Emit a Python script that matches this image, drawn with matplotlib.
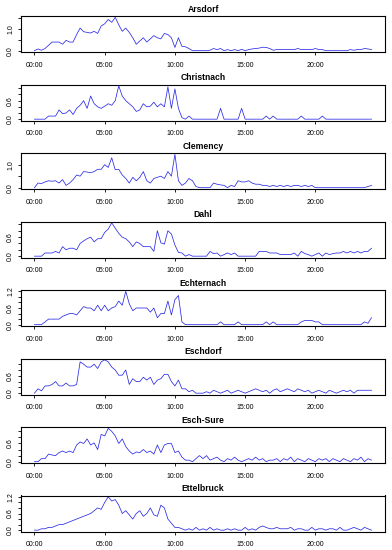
import numpy as np
import matplotlib
matplotlib.use("Agg")
import matplotlib.pyplot as plt

plt.rcParams['font.family'] = ['Liberation Sans', 'DejaVu Sans']

# 15-minute values, 00:00 .. 24:00
hours = np.arange(97) / 4.0

arsdorf = [
    0.0, 0.08, 0.02, 0.1, 0.25, 0.4, 0.4, 0.4,
    0.3, 0.48, 0.4, 0.4, 0.75, 1.05, 0.88, 0.85,
    0.82, 0.9, 0.8, 1.15, 1.25, 1.45, 1.32, 1.55,
    1.2, 0.9, 1.05, 0.85, 0.6, 0.3, 0.45, 0.6,
    0.4, 0.55, 0.7, 0.6, 0.55, 0.8, 0.75, 0.6,
    0.15, 0.6, 0.2, 0.18, 0.1, 0.0, 0.0, 0.0,
    0.0, 0.0, 0.02, 0.1, 0.05, 0.1, 0.0, 0.05,
    0.0, 0.05, 0.0, 0.06, 0.0, 0.05, 0.08, 0.1,
    0.12, 0.16, 0.15, 0.1, 0.02, 0.05, 0.05, 0.05,
    0.05, 0.05, 0.05, 0.1, 0.05, 0.05, 0.05, 0.05,
    0.1, 0.05, 0.05, 0.0, 0.0, 0.0, 0.0, 0.0,
    0.0, 0.0, 0.05, 0.02, 0.05, 0.05, 0.1, 0.08,
    0.05]

christnach = [
    0.0, 0.0, 0.0, 0.0, 0.1, 0.1, 0.1, 0.3,
    0.18, 0.2, 0.3, 0.15, 0.35, 0.45, 0.6, 0.35,
    0.75, 0.5, 0.4, 0.35, 0.42, 0.5, 0.45, 0.6,
    1.08, 0.75, 0.6, 0.5, 0.4, 0.25, 0.3, 0.5,
    0.4, 0.42, 0.55, 0.4, 0.5, 0.4, 1.05, 0.35,
    0.98, 0.35, 0.05, 0.0, 0.1, 0.0, 0.0, 0.0,
    0.0, 0.0, 0.0, 0.0, 0.0, 0.35, 0.0, 0.0,
    0.0, 0.0, 0.0, 0.35, 0.0, 0.0, 0.0, 0.0,
    0.0, 0.0, 0.1, 0.0, 0.1, 0.0, 0.0, 0.0,
    0.0, 0.0, 0.0, 0.0, 0.1, 0.0, 0.0, 0.0,
    0.0, 0.0, 0.1, 0.0, 0.0, 0.0, 0.0, 0.0,
    0.0, 0.0, 0.0, 0.0, 0.0, 0.0, 0.0, 0.0,
    0.0]

clemency = [
    0.0, 0.2, 0.18, 0.25, 0.3, 0.28, 0.3, 0.2,
    0.35, 0.1, 0.2, 0.35, 0.55, 0.5, 0.7, 0.68,
    0.65, 0.7, 0.8, 0.8, 1.0, 0.88, 1.3, 0.78,
    0.8, 0.55, 0.4, 0.2, 0.45, 0.3, 0.45, 0.7,
    0.3, 0.2, 0.4, 0.45, 0.5, 0.4, 0.7, 0.5,
    1.45, 0.3, 0.1, 0.2, 0.4, 0.3, 0.05, 0.0,
    0.0, 0.0, 0.0, 0.2, 0.15, 0.12, 0.1, 0.0,
    0.1, 0.05, 0.3, 0.25, 0.25, 0.3, 0.2, 0.15,
    0.15, 0.1, 0.1, 0.05, 0.1, 0.05, 0.1, 0.05,
    0.1, 0.05, 0.1, 0.1, 0.05, 0.1, 0.05, 0.1,
    0.0, 0.0, 0.0, 0.0, 0.0, 0.0, 0.0, 0.0,
    0.0, 0.0, 0.0, 0.0, 0.0, 0.0, 0.0, 0.05,
    0.1]

dahl = [
    0.0, 0.0, 0.0, 0.1, 0.1, 0.1, 0.15, 0.1,
    0.3, 0.2, 0.25, 0.25, 0.2, 0.4, 0.48, 0.55,
    0.6, 0.45, 0.55, 0.55, 0.75, 0.85, 1.05, 0.88,
    0.72, 0.6, 0.55, 0.45, 0.3, 0.45, 0.4, 0.3,
    0.3, 0.3, 0.15, 0.8, 0.42, 0.38, 0.8, 0.7,
    0.35, 0.12, 0.1, 0.0, 0.05, 0.0, 0.0, 0.0,
    0.0, 0.0, 0.15, 0.08, 0.1, 0.0, 0.05, 0.1,
    0.05, 0.1, 0.0, 0.0, 0.0, 0.0, 0.0, 0.0,
    0.15, 0.15, 0.15, 0.1, 0.1, 0.1, 0.05, 0.05,
    0.05, 0.05, 0.1, 0.0, 0.15, 0.08, 0.05, 0.0,
    0.05, 0.1, 0.0, 0.1, 0.05, 0.08, 0.1, 0.1,
    0.15, 0.1, 0.15, 0.1, 0.15, 0.1, 0.15, 0.15,
    0.25]

echternach = [
    0.0, 0.0, 0.0, 0.1, 0.2, 0.2, 0.2, 0.2,
    0.3, 0.35, 0.4, 0.4, 0.35, 0.5, 0.65, 0.6,
    0.6, 0.5, 0.7, 0.5, 0.7, 0.5, 0.6, 0.65,
    0.85, 0.7, 1.2, 0.75, 0.5, 0.6, 0.6, 0.6,
    0.6, 0.45, 0.6, 0.25, 0.4, 0.4, 0.85, 0.35,
    0.9, 1.05, 0.1, 0.0, 0.0, 0.0, 0.0, 0.0,
    0.0, 0.0, 0.0, 0.0, 0.0, 0.1, 0.0, 0.0,
    0.0, 0.0, 0.1, 0.0, 0.0, 0.0, 0.0, 0.0,
    0.0, 0.0, 0.1, 0.0, 0.1, 0.0, 0.0, 0.0,
    0.0, 0.0, 0.0, 0.0, 0.1, 0.15, 0.15, 0.15,
    0.1, 0.1, 0.0, 0.0, 0.0, 0.0, 0.0, 0.0,
    0.0, 0.0, 0.0, 0.0, 0.0, 0.0, 0.1, 0.05,
    0.25]

eschdorf = [
    0.0, 0.15, 0.08, 0.25, 0.25, 0.3, 0.4, 0.25,
    0.25, 0.35, 0.25, 0.25, 0.3, 1.08, 1.0, 0.9,
    0.9, 1.0, 0.85, 1.08, 1.15, 1.08, 0.9, 0.8,
    0.62, 0.62, 0.8, 0.3, 0.5, 0.4, 0.4, 0.55,
    0.45, 0.55, 0.3, 0.45, 0.5, 0.65, 0.65, 0.4,
    0.25, 0.45, 0.15, 0.15, 0.05, 0.1, 0.0, 0.0,
    0.0, 0.05, 0.0, 0.1, 0.05, 0.0, 0.05, 0.1,
    0.0, 0.05, 0.1, 0.05, 0.0, 0.05, 0.1, 0.15,
    0.1, 0.05, 0.1, 0.0, 0.1, 0.15, 0.05, 0.1,
    0.15, 0.1, 0.05, 0.15, 0.1, 0.05, 0.1, 0.0,
    0.05, 0.1, 0.05, 0.0, 0.1, 0.05, 0.0, 0.05,
    0.1, 0.05, 0.1, 0.0, 0.1, 0.1, 0.1, 0.1,
    0.1]

esch_sure = [
    0.0, 0.0, 0.1, 0.1, 0.25, 0.22, 0.2, 0.3,
    0.35, 0.3, 0.35, 0.3, 0.55, 0.65, 0.6, 0.75,
    0.55, 0.62, 0.4, 0.9, 0.85, 1.1, 1.0, 0.85,
    0.6, 0.75, 0.5, 0.35, 0.25, 0.32, 0.3, 0.4,
    0.3, 0.35, 0.25, 0.55, 0.3, 0.55, 0.6, 0.6,
    0.3, 0.35, 0.15, 0.05, 0.05, 0.0, 0.1, 0.2,
    0.1, 0.2, 0.05, 0.1, 0.15, 0.05, 0.0, 0.1,
    0.05, 0.15, 0.05, 0.0, 0.05, 0.1, 0.05, 0.15,
    0.05, 0.1, 0.0, 0.05, 0.05, 0.1, 0.0, 0.1,
    0.05, 0.15, 0.0, 0.1, 0.05, 0.0, 0.1, 0.05,
    0.0, 0.1, 0.05, 0.1, 0.0, 0.1, 0.05, 0.0,
    0.1, 0.05, 0.0, 0.1, 0.05, 0.15, 0.0, 0.1,
    0.05]

ettelbruck = [
    0.0, 0.0, 0.05, 0.05, 0.1, 0.1, 0.15, 0.2,
    0.2, 0.25, 0.3, 0.35, 0.4, 0.45, 0.5, 0.55,
    0.6, 0.7, 0.8, 0.75, 1.0, 1.2, 1.05, 1.1,
    0.9, 0.6, 0.7, 0.55, 0.4, 0.6, 0.7, 0.5,
    0.6, 0.8, 0.55, 0.5, 0.9, 0.8, 0.4, 0.25,
    0.1, 0.1, 0.05, 0.0, 0.05, 0.0, 0.1, 0.0,
    0.05, 0.0, 0.1, 0.0, 0.05, 0.0, 0.0, 0.05,
    0.0, 0.05, 0.0, 0.0, 0.1, 0.0, 0.05, 0.0,
    0.1, 0.15, 0.1, 0.05, 0.05, 0.1, 0.05, 0.05,
    0.05, 0.1, 0.0, 0.05, 0.05, 0.0, 0.0, 0.1,
    0.0, 0.05, 0.05, 0.0, 0.05, 0.05, 0.0, 0.1,
    0.0, 0.0, 0.05, 0.1, 0.05, 0.0, 0.1, 0.05,
    0.0]

stations = ["Arsdorf", "Christnach", "Clemency", "Dahl",
            "Echternach", "Eschdorf", "Esch-Sure", "Ettelbruck"]
series = [arsdorf, christnach, clemency, dahl,
          echternach, eschdorf, esch_sure, ettelbruck]
# y tick step and how often a tick gets a label
ystep = [0.5, 0.2, 0.5, 0.2, 0.2, 0.2, 0.2, 0.2]
ylabel_every = [2, 3, 2, 3, 3, 3, 3, 3]
xticks = [0, 5, 10, 15, 20]
xlabels = ["00:00", "05:00", "10:00", "15:00", "20:00"]

W, H = 392, 550
fig = plt.figure(figsize=(W / 100, H / 100), dpi=100)

for k in range(8):
    top = 16 + 68.5 * k
    ax = fig.add_axes([21 / W, 1 - (top + 36) / H, 364 / W, 36 / H])
    y = np.array(series[k])
    ax.plot(hours, y, color="#2a2ae6", lw=0.55)
    x0, x1 = hours[0], hours[-1]
    ax.set_xlim(x0 - 0.04 * (x1 - x0), x1 + 0.04 * (x1 - x0))
    lo, hi = y.min(), y.max()
    ax.set_ylim(lo - 0.04 * (hi - lo), hi + 0.04 * (hi - lo))

    yt = np.arange(0, hi + 1e-9, ystep[k])
    ax.set_yticks(yt)
    ax.set_yticklabels(["%.1f" % v if i % ylabel_every[k] == 0 else ""
                        for i, v in enumerate(yt)],
                       rotation=90, va="center")
    ax.set_xticks(xticks)
    ax.set_xticklabels(xlabels)
    ax.tick_params(axis="both", direction="out", length=2.5, width=0.6,
                   labelsize=5, color="black")
    ax.tick_params(axis="x", pad=4.5)
    ax.tick_params(axis="y", pad=2.5)
    for s in ax.spines.values():
        s.set_linewidth(0.8)
        s.set_color("black")
    ax.set_title(stations[k], fontsize=6.2, fontweight="bold", pad=3)

fig.savefig("out.png", dpi=100)
